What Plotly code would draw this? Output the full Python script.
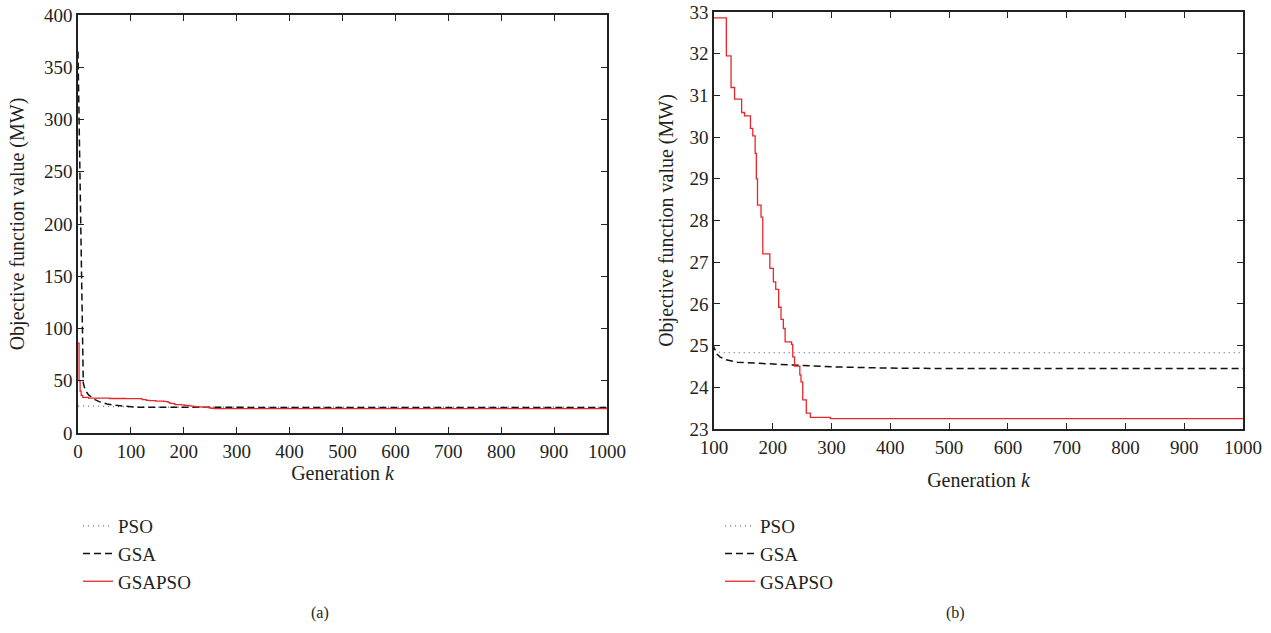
import plotly.graph_objects as go

W, H = 1271, 633

# ---------------- data ----------------
pso_k = [0, 40, 80, 100, 110, 1000]
pso_v = [26.0, 25.6, 25.1, 24.92, 24.83, 24.83]

gsa_k = [0, 2, 4, 6, 7, 8, 9, 10, 12, 15, 20, 30, 40, 55, 70, 85, 100, 105, 110, 120, 140,
         170, 200, 250, 300, 400, 500, 1000]
gsa_v = [365, 300, 220, 150, 130, 95, 55, 48, 44, 40, 36.5, 32.5, 30.0, 27.8, 26.5, 25.6,
         24.95, 24.8, 24.73, 24.66, 24.6, 24.58, 24.56, 24.51, 24.49, 24.46, 24.45, 24.45]

gsapso_k = [0, 2, 4, 6, 9, 20, 60, 90, 121, 129, 135, 147, 152, 162, 166, 170, 172, 174, 180,
            183, 195, 201, 205, 210, 214, 218, 221, 232, 234, 237, 246, 248, 251, 257, 264,
            298, 1000]
gsapso_v = [86, 50, 40, 36, 34, 33.4, 33.0, 32.86, 31.95, 31.19, 30.91, 30.59, 30.51, 30.21,
            30.03, 29.61, 29.0, 28.37, 28.08, 27.2, 26.85, 26.53, 26.35, 25.92, 25.63, 25.41,
            25.09, 25.03, 24.73, 24.51, 24.3, 24.13, 23.70, 23.38, 23.28, 23.25, 23.25]

series_names = ["PSO", "GSA", "GSAPSO"]
left_x_ticks = list(range(0, 1001, 100))
left_y_ticks = list(range(0, 401, 50))
right_x_ticks = list(range(100, 1001, 100))
right_y_ticks = list(range(23, 34))

FONT = "Liberation Serif, Times New Roman, serif"
TXT = "#231f20"

styles = {
    "PSO": dict(color="#5b6fc4", width=1.2, dash="1px,4px"),
    "GSA": dict(color="#111111", width=1.5, dash="7px,4px"),
    "GSAPSO": dict(color="#e8262c", width=1.3),
}

fig = go.Figure()
data = {"PSO": (pso_k, pso_v, "linear"), "GSA": (gsa_k, gsa_v, "linear"),
        "GSAPSO": (gsapso_k, gsapso_v, "hv")}

for i, (xa, ya, lg) in enumerate([("x", "y", "legend"), ("x2", "y2", "legend2")]):
    for name in series_names:
        k, v, shape = data[name]
        fig.add_trace(go.Scatter(
            x=k, y=v, mode="lines", name=name, line=dict(shape=shape, **styles[name]),
            xaxis=xa, yaxis=ya, legend=lg, legendgroup=f"{lg}{name}"))

def px_x(p):
    return p / W

def px_y(p):
    return (H - p) / H

axis_common = dict(showline=True, linecolor="#222222", linewidth=1.5, mirror="ticks",
                   ticks="inside", ticklen=6, tickwidth=1.3, tickcolor="#222222",
                   showgrid=False, zeroline=False, automargin=False,
                   tickfont=dict(family=FONT, size=19, color=TXT))
title_font = dict(family=FONT, size=20, color=TXT)

fig.update_layout(
    template="none",
    width=W, height=H, margin=dict(l=0, r=0, t=0, b=0),
    plot_bgcolor="white", paper_bgcolor="white",
    font=dict(family=FONT, size=19, color=TXT),
    xaxis=dict(domain=[px_x(78), px_x(607)], range=[0, 1000], tickvals=left_x_ticks,
               anchor="y", title=dict(text="Generation <i>k</i>", font=title_font, standoff=3),
               **axis_common),
    yaxis=dict(domain=[px_y(433), px_y(15)], range=[0, 400], tickvals=left_y_ticks,
               anchor="x", title=dict(text="Objective function value (MW)", font=title_font,
                                      standoff=14),
               **axis_common),
    xaxis2=dict(domain=[px_x(714), px_x(1243)], range=[100, 1000], tickvals=right_x_ticks,
                anchor="y2", title=dict(text="Generation <i>k</i>", font=title_font, standoff=16),
                **axis_common),
    yaxis2=dict(domain=[px_y(429), px_y(12)], range=[23, 33], tickvals=right_y_ticks,
                anchor="x2", title=dict(text="Objective function value (MW)", font=title_font,
                                        standoff=10),
                **axis_common),
    legend=dict(x=px_x(78), y=px_y(507), xanchor="left", yanchor="top",
                font=dict(family=FONT, size=19, color=TXT), tracegroupgap=0,
                bgcolor="rgba(0,0,0,0)"),
    legend2=dict(x=px_x(720), y=px_y(507), xanchor="left", yanchor="top",
                 font=dict(family=FONT, size=19, color=TXT), tracegroupgap=0,
                 bgcolor="rgba(0,0,0,0)"),
    annotations=[
        dict(text="(a)", x=px_x(320), y=px_y(613), xref="paper", yref="paper",
             xanchor="center", yanchor="middle",
             showarrow=False, font=dict(family=FONT, size=16, color=TXT)),
        dict(text="(b)", x=px_x(955), y=px_y(613), xref="paper", yref="paper",
             xanchor="center", yanchor="middle",
             showarrow=False, font=dict(family=FONT, size=16, color=TXT)),
    ],
)

fig.write_html("out.html")
